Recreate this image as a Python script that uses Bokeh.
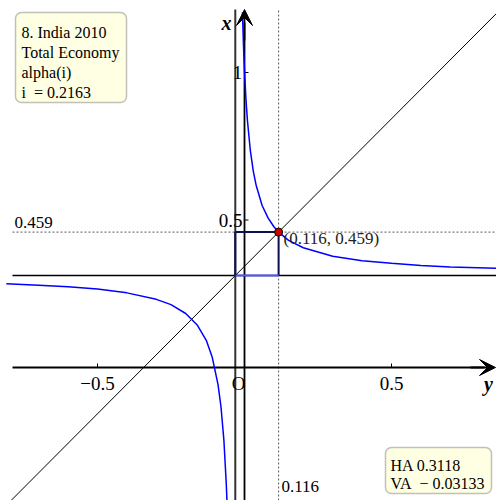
from bokeh.plotting import figure
from bokeh.models import Range1d, Label, BoxAnnotation, Arrow, VeeHead
from bokeh.embed import file_html
from bokeh.resources import INLINE

# ---- data ----
HA = 0.3118
VA = -0.03133
fixed_y = 0.116
fixed_x = 0.459
alpha_i = 0.2163

# right branch of the curve (horizontal coordinate y, vertical coordinate x)
right_y = [-0.007, -0.003, 0.0, 0.005, 0.01, 0.02, 0.03, 0.04, 0.06, 0.08, 0.1, 0.116,
           0.15, 0.2, 0.3, 0.4, 0.5, 0.6, 0.7, 0.86]
right_x = [1.204, 1.078, 1.005, 0.909, 0.837, 0.734, 0.665, 0.616, 0.549, 0.507, 0.477, 0.459,
           0.431, 0.406, 0.377, 0.362, 0.353, 0.346, 0.341, 0.336]
# left branch
left_y = [-0.81, -0.7, -0.6, -0.5, -0.4, -0.3, -0.25, -0.2, -0.16, -0.13, -0.11, -0.09,
          -0.08, -0.07, -0.062, -0.0597]
left_x = [0.284, 0.279, 0.274, 0.266, 0.253, 0.231, 0.213, 0.183, 0.143, 0.092, 0.036, -0.058,
          -0.133, -0.248, -0.394, -0.451]

h_ticks = [-0.5, 0.5]
h_tick_labels = ["\u22120.5", "0.5"]
v_ticks = [0.5, 1.0]
v_tick_labels = ["0.5", "1"]

NB = "\u00a0"
info_lines = ["8. India 2010", "Total Economy", "alpha(i)", "i" + NB + NB + "= %.4f" % alpha_i]
asym_lines = ["HA %.4f" % HA, "VA" + NB + NB + "\u2212 %.5f" % abs(VA)]

# ---- layout helpers (reference pixel -> data) ----
def X(px):
    return (px - 244) / 294.0

def Y(py):
    return (367 - py) / 295.0

W, H = 496, 500
p = figure(width=W, height=H, output_backend="svg", toolbar_location=None,
           x_range=Range1d(X(0), X(W)), y_range=Range1d(Y(H), Y(0)),
           x_axis_type=None, y_axis_type=None, min_border=0)
p.min_border_left = p.min_border_right = p.min_border_top = p.min_border_bottom = 0
p.grid.visible = False
p.outline_line_color = None
p.background_fill_color = "white"

xl, xr = X(12), X(496)
yb, yt = Y(500), Y(8)

# dashed guide lines
p.segment(x0=[xl], y0=[fixed_x], x1=[xr], y1=[fixed_x], line_color="#555555",
          line_width=1, line_dash="2 2")
p.segment(x0=[fixed_y], y0=[yb], x1=[fixed_y], y1=[yt], line_color="#555555",
          line_width=1, line_dash="2 2")

# asymptotes
p.segment(x0=[xl], y0=[HA], x1=[xr], y1=[HA], line_color="black", line_width=1.3)
p.segment(x0=[VA], y0=[yb], x1=[VA], y1=[Y(9)], line_color="#333333", line_width=2)

# diagonal through asymptote intersection and the fixed point
slope_off = HA - VA
p.line(x=[X(0), X(510)], y=[X(0) + slope_off, X(510) + slope_off], line_color="black", line_width=1)

# axes
p.segment(x0=[xl], y0=[0], x1=[X(484)], y1=[0], line_color="black", line_width=1.8)
p.segment(x0=[0], y0=[yb], x1=[0], y1=[Y(22)], line_color="black", line_width=1.8)
p.add_layout(Arrow(end=VeeHead(size=16, fill_color="black", line_color="black", line_width=1),
                   x_start=X(470), y_start=0, x_end=X(495), y_end=0, line_width=1.8))
p.add_layout(Arrow(end=VeeHead(size=16, fill_color="black", line_color="black", line_width=1),
                   x_start=0, y_start=Y(40), x_end=0, y_end=Y(9), line_width=1.8))

# ticks
tk = 4 / 295.0
for t in h_ticks:
    p.segment(x0=[t], y0=[0], x1=[t], y1=[tk], line_color="black", line_width=1)
for t in v_ticks:
    p.segment(x0=[0], y0=[t], x1=[4 / 294.0], y1=[t], line_color="black", line_width=1)

# cobweb square
p.segment(x0=[VA], y0=[fixed_x], x1=[fixed_y], y1=[fixed_x], line_color="#101050", line_width=2)
p.segment(x0=[fixed_y], y0=[fixed_x], x1=[fixed_y], y1=[HA], line_color="#101050", line_width=2)
p.segment(x0=[VA], y0=[HA], x1=[fixed_y], y1=[HA], line_color="#5555ff", line_width=2)
p.segment(x0=[VA], y0=[HA], x1=[VA], y1=[fixed_x], line_color="#101050", line_width=2)

# curve
p.line(x=right_y, y=right_x, line_color="#0000ff", line_width=1.5)
p.line(x=left_y, y=left_x, line_color="#0000ff", line_width=1.5)

# fixed point
p.scatter(x=[fixed_y], y=[fixed_x], size=8, fill_color="#cc0000", line_color="black", line_width=1)

SERIF = "Liberation Serif"

def lab(x, y, text, size, align="left", base="middle", color="black", style="normal"):
    p.add_layout(Label(x=x, y=y, text=text, text_font=SERIF, text_font_size="%dpx" % size,
                       text_align=align, text_baseline=base, text_color=color,
                       text_font_style=style))

# tick labels
for t, s in zip(h_ticks, h_tick_labels):
    lab(t, Y(383), s, 19, align="center")
lab(X(238), Y(383), "O", 19, align="center")
lab(X(242), v_ticks[0], v_tick_labels[0], 19, align="right")
lab(X(237), v_ticks[1], v_tick_labels[1], 19, align="center")

# axis names
lab(X(226), Y(22), "x", 20, align="center", style="bold italic")
lab(X(488), Y(383), "y", 20, align="center", style="bold italic")

# guide labels
lab(X(14), Y(222), "%.3f" % fixed_x, 17, base="alphabetic")
lab(X(281), Y(486), "%.3f" % fixed_y, 17)
lab(X(283), Y(238), "(%.3f, %.3f)" % (fixed_y, fixed_x), 17, color="#222222")

# info boxes
p.add_layout(BoxAnnotation(left=X(15), right=X(126), top=Y(12), bottom=Y(102),
                           fill_color="#FFFFE3", fill_alpha=1, line_color="#333333",
                           line_width=1.5, border_radius=6))
for i, s in enumerate(info_lines):
    lab(X(21), Y(32 + 20 * i), s, 16, base="alphabetic")

p.add_layout(BoxAnnotation(left=X(385), right=X(491), top=Y(447), bottom=Y(493),
                           fill_color="#FFFFE3", fill_alpha=1, line_color="#333333",
                           line_width=1.5, border_radius=6))
for i, s in enumerate(asym_lines):
    lab(X(390), Y(465 + 18 * i), s, 16, base="alphabetic")

open("out.html", "w").write(file_html(p, INLINE))
